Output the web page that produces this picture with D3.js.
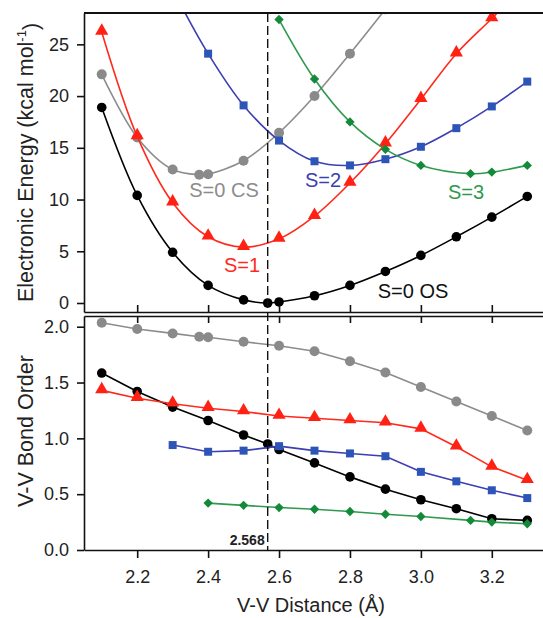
<!DOCTYPE html>
<html>
<head>
<meta charset="utf-8">
<script src="https://cdn.jsdelivr.net/npm/d3@7"></script>
<style>
  body { margin: 0; background: #fff; }
  svg text { font-family: "Liberation Sans", Arial, Helvetica, sans-serif; }
</style>
</head>
<body>
<div id="canvas"></div>
<script>
"use strict"

let svgWidth = 543
let svgHeight = 618

/* Data: top panel = energy (kcal/mol), bottom panel = V-V bond order */
let distOS = [2.1, 2.2, 2.3, 2.4, 2.5, 2.568, 2.6, 2.7, 2.8, 2.9, 3.0, 3.1, 3.2, 3.3]
let energyOS = [18.9, 10.4, 4.9, 1.7, 0.3, 0.0, 0.1, 0.7, 1.7, 3.05, 4.6, 6.4, 8.3, 10.3]
let bondOS = [1.585, 1.42, 1.28, 1.16, 1.03, 0.95, 0.90, 0.78, 0.655, 0.545, 0.45, 0.37, 0.28, 0.265]

let distCSEnergy = [2.1, 2.2, 2.3, 2.375, 2.4, 2.5, 2.6, 2.7, 2.8, 2.9, 3.0]
let energyCS = [22.1, 16.0, 12.9, 12.4, 12.45, 13.75, 16.45, 20.0, 24.1, 28.4, 32.8]
let distCSBond = [2.1, 2.2, 2.3, 2.375, 2.4, 2.5, 2.6, 2.7, 2.8, 2.9, 3.0, 3.1, 3.2, 3.3]
let bondCS = [2.035, 1.98, 1.94, 1.91, 1.905, 1.865, 1.83, 1.78, 1.69, 1.59, 1.46, 1.33, 1.20, 1.07]

let distS1 = [2.1, 2.2, 2.3, 2.4, 2.5, 2.6, 2.7, 2.8, 2.9, 3.0, 3.1, 3.2, 3.3]
let energyS1 = [26.2, 16.1, 9.7, 6.4, 5.4, 6.2, 8.4, 11.6, 15.4, 19.7, 24.1, 27.5, 31.0]
let bondS1 = [1.43, 1.36, 1.31, 1.27, 1.24, 1.20, 1.18, 1.16, 1.14, 1.085, 0.925, 0.745, 0.625]

let distS2 = [2.3, 2.4, 2.5, 2.6, 2.7, 2.8, 2.9, 3.0, 3.1, 3.2, 3.3]
let energyS2 = [30.3, 24.1, 19.1, 15.7, 13.7, 13.3, 13.9, 15.1, 16.9, 19.0, 21.4]
let bondS2 = [0.94, 0.88, 0.89, 0.93, 0.89, 0.865, 0.84, 0.70, 0.615, 0.535, 0.465]

let distS3Energy = [2.6, 2.7, 2.8, 2.9, 3.0, 3.14, 3.2, 3.3]
let energyS3 = [27.4, 21.65, 17.5, 14.85, 13.3, 12.5, 12.65, 13.3]
let distS3Bond = [2.4, 2.5, 2.6, 2.7, 2.8, 2.9, 3.0, 3.14, 3.2, 3.3]
let bondS3 = [0.42, 0.40, 0.38, 0.365, 0.345, 0.32, 0.30, 0.265, 0.25, 0.235]

let xTicks = [2.2, 2.4, 2.6, 2.8, 3.0, 3.2]
let energyTicks = [0, 5, 10, 15, 20, 25]
let bondTicks = [0, 0.5, 1.0, 1.5, 2.0]
let eqDistance = 2.568

/* series styles */
let seriesStyle = {
  cs: {line: "#8c8c8c", fill: "#8a8a8a", shape: "circle", size: 5},
  os: {line: "#000000", fill: "#000000", shape: "circle", size: 4.8},
  s1: {line: "#ff2a1c", fill: "#ff2214", shape: "triangle", size: 75},
  s2: {line: "#3c3fb2", fill: "#2d55b8", shape: "square", size: 8},
  s3: {line: "#2e9a4e", fill: "#13893a", shape: "diamond", size: 6.6}
}

let zip = (xs, ys) => xs.map((x, i) => ({x: x, y: ys[i]}))

let energySeries = [
  {key: "cs", pts: zip(distCSEnergy, energyCS)},
  {key: "os", pts: zip(distOS, energyOS)},
  {key: "s1", pts: zip(distS1, energyS1)},
  {key: "s2", pts: zip(distS2, energyS2)},
  {key: "s3", pts: zip(distS3Energy, energyS3)}
]
let bondSeries = [
  {key: "cs", pts: zip(distCSBond, bondCS)},
  {key: "os", pts: zip(distOS, bondOS)},
  {key: "s1", pts: zip(distS1, bondS1)},
  {key: "s2", pts: zip(distS2, bondS2)},
  {key: "s3", pts: zip(distS3Bond, bondS3)}
]

/* layout */
let left = 84
let topY = 13
let topBottom = 312
let botTop = 316
let botBottom = 550

let svg = d3.select("#canvas")
  .append("svg")
  .attr("width", svgWidth)
  .attr("height", svgHeight)

/* scales */
let xScale = d3.scaleLinear().domain([2.05, 3.35]).range([left, 545])
let yTop = d3.scaleLinear().domain([-0.87, 28.03]).range([topBottom, topY])
let yBot = d3.scaleLinear().domain([0, 2.096]).range([botBottom, botTop])

/* clip paths */
let defs = svg.append("defs")
defs.append("clipPath").attr("id", "clipTop")
  .append("rect").attr("x", left).attr("y", topY)
  .attr("width", svgWidth - left).attr("height", topBottom - topY)
defs.append("clipPath").attr("id", "clipBot")
  .append("rect").attr("x", left).attr("y", botTop)
  .attr("width", svgWidth - left).attr("height", botBottom - botTop + 8)

function drawMarkers(g, pts, st, yScale) {
  let sel = g.selectAll(".m").data(pts).join(st.shape === "circle" ? "circle" : "path")
  if (st.shape === "circle") {
    sel.attr("cx", d => xScale(d.x)).attr("cy", d => yScale(d.y)).attr("r", st.size)
  } else if (st.shape === "square") {
    sel.attr("d", d3.symbol().type(d3.symbolSquare).size(st.size * st.size))
      .attr("transform", d => "translate(" + xScale(d.x) + "," + yScale(d.y) + ")")
  } else if (st.shape === "triangle") {
    sel.attr("d", d3.symbol().type(d3.symbolTriangle).size(st.size))
      .attr("transform", d => "translate(" + xScale(d.x) + "," + (yScale(d.y) - 1) + ")")
  } else {
    // diamond = square turned 45 degrees
    sel.attr("d", d3.symbol().type(d3.symbolSquare).size(st.size * st.size))
      .attr("transform", d => "translate(" + xScale(d.x) + "," + yScale(d.y) + ") rotate(45)")
  }
  sel.attr("fill", st.fill)
}

function drawPanel(series, yScale, clipId, curve) {
  let g = svg.append("g").attr("clip-path", "url(#" + clipId + ")")
  series.forEach(s => {
    let st = seriesStyle[s.key]
    let line = d3.line().x(d => xScale(d.x)).y(d => yScale(d.y)).curve(curve)
    g.append("path")
      .attr("d", line(s.pts))
      .attr("fill", "none")
      .attr("stroke", st.line)
      .attr("stroke-width", 1.6)
    drawMarkers(g.append("g"), s.pts, st, yScale)
  })
}

drawPanel(energySeries, yTop, "clipTop", d3.curveCatmullRom.alpha(0.5))
drawPanel(bondSeries, yBot, "clipBot", d3.curveLinear)

/* axes */
function styleAxis(g) {
  g.selectAll("path, line").attr("stroke", "#111").attr("stroke-width", 1.6)
  g.selectAll("text").attr("font-size", "18px").attr("fill", "#222")
}

svg.append("g")
  .attr("transform", "translate(" + left + ",0)")
  .call(d3.axisLeft(yTop).tickValues(energyTicks).tickSize(7).tickPadding(8).tickSizeOuter(0))
  .call(styleAxis)

svg.append("g")
  .attr("transform", "translate(" + left + ",0)")
  .call(d3.axisLeft(yBot).tickValues(bondTicks).tickFormat(d3.format(".1f")).tickSize(7).tickPadding(8).tickSizeOuter(0))
  .call(styleAxis)

/* top border */
svg.append("line")
  .attr("x1", left).attr("x2", svgWidth)
  .attr("y1", topY).attr("y2", topY)
  .attr("stroke", "#111").attr("stroke-width", 1.8)

/* inner ticks between panels */
svg.append("g")
  .attr("transform", "translate(0," + topBottom + ")")
  .call(d3.axisBottom(xScale).tickValues(xTicks).tickSize(-7).tickFormat("").tickSizeOuter(0))
  .call(styleAxis)

svg.append("g")
  .attr("transform", "translate(0," + botTop + ")")
  .call(d3.axisTop(xScale).tickValues(xTicks).tickSize(-7).tickFormat("").tickSizeOuter(0))
  .call(styleAxis)

svg.append("g")
  .attr("transform", "translate(0," + botBottom + ")")
  .call(d3.axisBottom(xScale).tickValues(xTicks).tickFormat(d3.format(".1f")).tickSize(8).tickPadding(12).tickSizeOuter(0))
  .call(styleAxis)

/* dashed equilibrium line */
svg.append("line")
  .attr("x1", xScale(eqDistance)).attr("x2", xScale(eqDistance))
  .attr("y1", topY).attr("y2", botBottom)
  .attr("stroke", "#111")
  .attr("stroke-width", 1.4)
  .attr("stroke-dasharray", "9,4")

svg.append("text")
  .attr("x", xScale(eqDistance) - 3)
  .attr("y", botBottom - 5)
  .attr("text-anchor", "end")
  .attr("font-size", "14px")
  .attr("font-weight", "bold")
  .attr("fill", "#222")
  .text(eqDistance)

/* state labels */
let labels = [
  {text: "S=0 CS", x: 224, y: 197, key: "cs"},
  {text: "S=1", x: 242, y: 272, key: "s1"},
  {text: "S=2", x: 323, y: 187, key: "s2"},
  {text: "S=3", x: 466, y: 199, key: "s3"},
  {text: "S=0 OS", x: 413, y: 298, key: "os"}
]
svg.selectAll(".stateLabel")
  .data(labels)
  .join("text")
  .attr("class", "stateLabel")
  .attr("x", d => d.x)
  .attr("y", d => d.y)
  .attr("text-anchor", "middle")
  .attr("font-size", "20px")
  .attr("fill", d => seriesStyle[d.key].line === "#000000" ? "#111" : seriesStyle[d.key].line)
  .text(d => d.text)

/* axis titles */
let yTitle = svg.append("text")
  .attr("transform", "translate(33," + ((topY + topBottom) / 2) + ") rotate(-90)")
  .attr("text-anchor", "middle")
  .attr("font-size", "21.5px")
  .attr("fill", "#222")
yTitle.append("tspan").text("Electronic Energy (kcal mol")
yTitle.append("tspan").attr("dy", "-0.55em").attr("font-size", "13px").text("-1")
yTitle.append("tspan").attr("dy", "0.55em").text(")")

svg.append("text")
  .attr("transform", "translate(33," + ((botTop + botBottom) / 2 - 2) + ") rotate(-90)")
  .attr("text-anchor", "middle")
  .attr("font-size", "21.5px")
  .attr("fill", "#222")
  .text("V-V Bond Order")

svg.append("text")
  .attr("x", 311)
  .attr("y", 612)
  .attr("text-anchor", "middle")
  .attr("font-size", "20px")
  .attr("fill", "#222")
  .text("V-V Distance (Å)")
</script>
</body>
</html>
